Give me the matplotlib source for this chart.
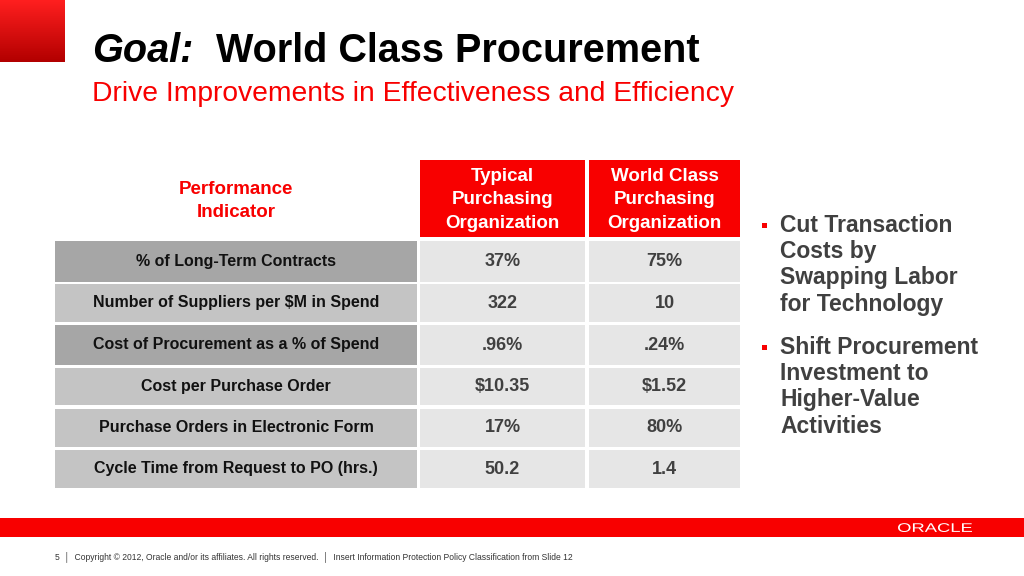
import numpy as np
import matplotlib.pyplot as plt
from matplotlib.patches import Rectangle, PathPatch
from matplotlib.textpath import TextPath
from matplotlib.font_manager import FontProperties
from matplotlib.transforms import Affine2D

title_goal = "Goal:"
title_main = "World Class Procurement"
subtitle = "Drive Improvements in Effectiveness and Efficiency"

col_headers = ["Performance\nIndicator",
               "Typical\nPurchasing\nOrganization",
               "World Class\nPurchasing\nOrganization"]
indicators = ["% of Long-Term Contracts",
              "Number of Suppliers per $M in Spend",
              "Cost of Procurement as a % of Spend",
              "Cost per Purchase Order",
              "Purchase Orders in Electronic Form",
              "Cycle Time from Request to PO (hrs.)"]
typical = ["37%", "322", ".96%", "$10.35", "17%", "50.2"]
world_class = ["75%", "10", ".24%", "$1.52", "80%", "1.4"]
dark_rows = [0, 2]

bullets = ["Cut Transaction\nCosts by\nSwapping Labor\nfor Technology",
           "Shift Procurement\nInvestment to\nHigher-Value\nActivities"]

footer = ("5  \u2502  Copyright \u00a9 2012, Oracle and/or its affiliates. All rights reserved.  "
          "\u2502  Insert Information Protection Policy Classification from Slide 12")

RED = "#f80000"
NARROW = ["Liberation Sans Narrow", "Liberation Sans", "DejaVu Sans"]
SANS = ["Liberation Sans", "DejaVu Sans"]

fig = plt.figure(figsize=(10.24, 5.76), dpi=100)
ax = fig.add_axes([0, 0, 1, 1])
ax.set_xlim(0, 1024)
ax.set_ylim(576, 0)
ax.axis("off")

# red gradient square top-left
grad = np.linspace(0, 1, 64).reshape(-1, 1)
top = np.array([1.0, 0.12, 0.12])
bot = np.array([0.70, 0.0, 0.0])
img = top + grad[..., None] * (bot - top)
img = np.repeat(img, 2, axis=1)
ax.imshow(img, extent=(0, 65, 62, 0), aspect="auto", zorder=1)

# titles
ax.text(92, 62, title_goal, fontsize=28.5, fontweight="bold", style="italic",
        family=SANS, color="black", va="baseline")
ax.text(216, 62, title_main, fontsize=28.5, fontweight="bold",
        family=SANS, color="black", va="baseline")
ax.text(92, 101, subtitle, fontsize=20.3, family=SANS, color=RED, va="baseline")

# table
col_x = [55, 420, 589]
col_w = [362, 165, 151]
head_top, head_h = 160, 77
row_top = [241, 284, 325, 368, 409, 450]
row_h = [41, 38, 40, 37, 38, 38]

ax.text(col_x[0] + col_w[0] / 2, 201, col_headers[0], ha="center", va="center",
        fontsize=13.5, fontweight="bold", family=NARROW, color=RED, linespacing=1.5)
for j in (1, 2):
    ax.add_patch(Rectangle((col_x[j], head_top), col_w[j], head_h, color=RED, lw=0))
    ax.text(col_x[j] + col_w[j] / 2, head_top + head_h / 2 + 1.5, col_headers[j],
            ha="center", va="center", fontsize=13.5, fontweight="bold",
            family=NARROW, color="white", linespacing=1.5)

for i, label in enumerate(indicators):
    y, h = row_top[i], row_h[i]
    lab_col = "#a6a6a6" if i in dark_rows else "#c4c4c4"
    ax.add_patch(Rectangle((col_x[0], y), col_w[0], h, color=lab_col, lw=0))
    ax.add_patch(Rectangle((col_x[1], y), col_w[1], h, color="#e6e6e6", lw=0))
    ax.add_patch(Rectangle((col_x[2], y), col_w[2], h, color="#e6e6e6", lw=0))
    ax.text(col_x[0] + col_w[0] / 2, y + h / 2, label, ha="center", va="center",
            fontsize=11.5, fontweight="bold", family=NARROW, color="#111111")
    ax.text(col_x[1] + col_w[1] / 2, y + h / 2, typical[i], ha="center", va="center",
            fontsize=13, fontweight="bold", family=NARROW, color="#404040")
    ax.text(col_x[2] + col_w[2] / 2, y + h / 2, world_class[i], ha="center", va="center",
            fontsize=13, fontweight="bold", family=NARROW, color="#404040")

# bullets
by = [214, 336]
for b, y in zip(bullets, by):
    ax.add_patch(Rectangle((762, y + 9), 5, 5, color=RED, lw=0))
    ax.text(780, y, b, ha="left", va="top", fontsize=16.5, fontweight="bold",
            family=SANS, color="#404040", linespacing=1.18)

# footer band and logo (wide lettering, stretched path)
ax.add_patch(Rectangle((0, 518), 1024, 19, color=RED, lw=0))
tp = TextPath((0, 0), "ORACLE", size=12.5, prop=FontProperties(family=SANS))
ext = tp.get_extents()
tr = Affine2D().translate(-ext.x0, -ext.y0).scale(74 / ext.width, -1).translate(898, 532)
ax.add_patch(PathPatch(tr.transform_path(tp), color="white", lw=0))
ax.text(55, 557, footer, ha="left", va="center", fontsize=6.15,
        family=SANS, color="#333333")

fig.savefig("out.png", dpi=100)
